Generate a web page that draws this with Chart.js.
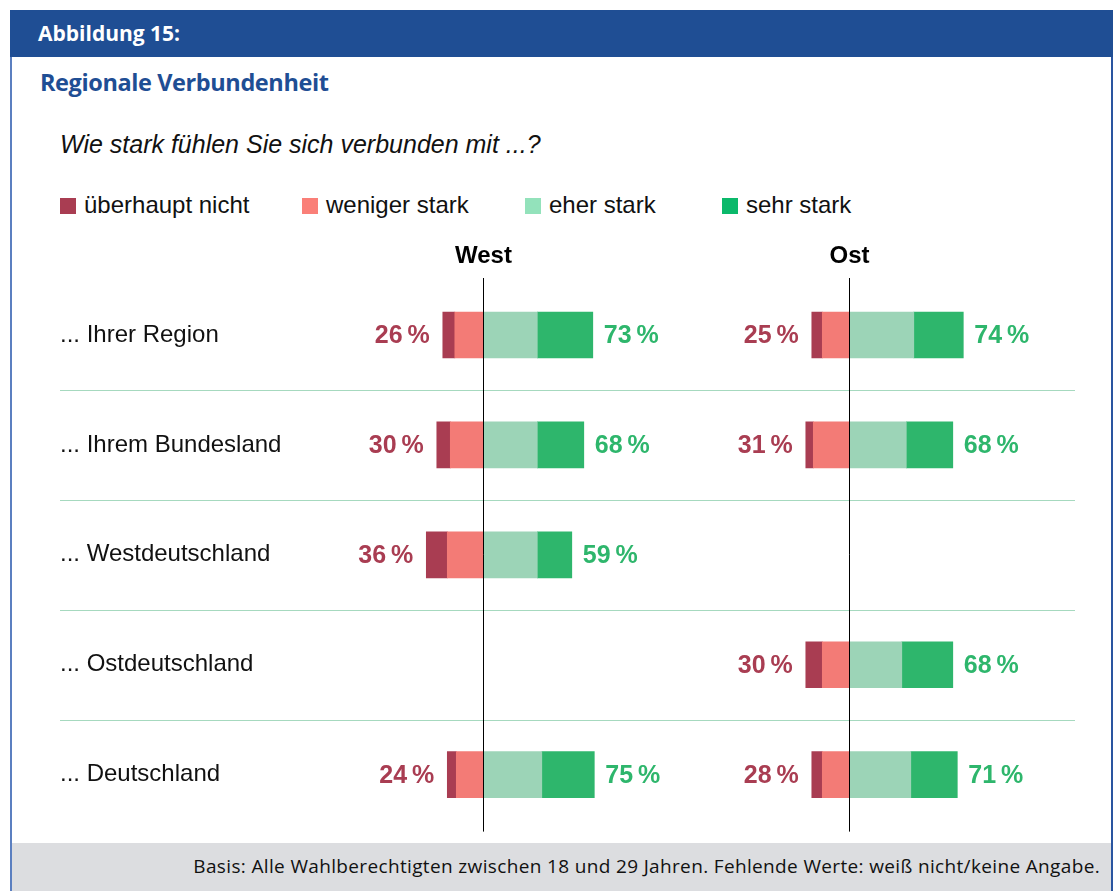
<!DOCTYPE html>
<html lang="de">
<head>
<meta charset="utf-8">
<title>Regionale Verbundenheit</title>
<script src="https://cdn.jsdelivr.net/npm/chart.js@4.4.1/dist/chart.umd.min.js"></script>
<style>
  html, body { margin: 0; padding: 0; background: #fff; }
  body { width: 1120px; height: 891px; position: relative; overflow: hidden; font-family: "Liberation Sans", Arial, sans-serif; }
  .frame { position: absolute; left: 10px; top: 10px; width: 1103px; height: 881px; border-left: 2px solid #5b7fc0; border-right: 2px solid #2a55a0; box-sizing: border-box; }
  .head { position: absolute; left: 10px; top: 10px; width: 1103px; height: 47px; background: #1f4e94; }
  .head span { position: absolute; left: 28px; top: 9px; color: #fff; font: bold 21px "Open Sans", sans-serif; }
  .title { position: absolute; left: 40px; top: 66px; color: #1f4e94; font: bold 23.5px "Open Sans", sans-serif; letter-spacing: -0.4px; }
  .question { position: absolute; left: 60px; top: 130px; font: italic 25px "Liberation Sans", Arial, sans-serif; color: #111; }
  .legend { position: absolute; top: 191px; left: 0; font: 24px "Liberation Sans", Arial, sans-serif; color: #111; }
  .legend div { position: absolute; white-space: nowrap; }
  .legend i { display: inline-block; width: 16px; height: 16px; vertical-align: -1px; margin-right: 8px; }
  .foot { position: absolute; left: 12px; top: 843px; width: 1099px; height: 48px; background: #dcdde0; }
  .foot span { position: absolute; right: 11px; top: 10px; font: 19px "Open Sans", sans-serif; letter-spacing: 0.35px; color: #111; white-space: nowrap; }
  #wrap { position: absolute; left: 40px; top: 230px; width: 1060px; height: 614px; }
</style>
</head>
<body>
<div class="frame"></div>
<div class="head"><span>Abbildung 15:</span></div>
<div class="title">Regionale Verbundenheit</div>
<div class="question">Wie stark fühlen Sie sich verbunden mit ...?</div>
<div class="legend" id="legend"></div>
<div class="foot"><span>Basis: Alle Wahlberechtigten zwischen 18 und 29 Jahren. Fehlende Werte: weiß nicht/keine Angabe.</span></div>
<div id="wrap"><canvas id="chart"></canvas></div>

<script>
// =================== DATA ===================
const categories = ['... Ihrer Region', '... Ihrem Bundesland', '... Westdeutschland', '... Ostdeutschland', '... Deutschland'];
const panels = ['West', 'Ost'];
const seriesNames = ['überhaupt nicht', 'weniger stark', 'eher stark', 'sehr stark'];

// West (null = not asked)
const westUeberhaupt = [8, 9, 14, null, 6];
const westWeniger    = [19, 22, 24, null, 18];
const westEher       = [36, 36, 36, null, 39];
const westSehr       = [37, 31, 23, null, 35];
const westNegLabels  = ['26', '30', '36', null, '24'];
const westPosLabels  = ['73', '68', '59', null, '75'];

// Ost
const ostUeberhaupt = [7, 5, null, 11, 7];
const ostWeniger    = [18, 24, null, 18, 18];
const ostEher       = [43, 38, null, 35, 41];
const ostSehr       = [33, 31, null, 34, 31];
const ostNegLabels  = ['25', '31', null, '30', '28'];
const ostPosLabels  = ['74', '68', null, '68', '71'];

// =================== STYLE ===================
const barColors = ['#a93d52', '#f37b76', '#9cd4b7', '#2eb66c'];
const legendColors = ['#a93d52', '#fa7f78', '#93e2bb', '#0bb96b'];
const negTextColor = '#a93d52';
const posTextColor = '#2eb66c';

// legend (HTML)
const legendX = [60, 302, 525, 722];
document.getElementById('legend').innerHTML = seriesNames.map((n, i) =>
  `<div style="left:${legendX[i]}px"><i style="background:${legendColors[i]}"></i>${n}</div>`
).join('');

const neg = arr => arr.map(v => v == null ? null : -v);

function makeSets(prefix, axis, ue, we, eh, se) {
  // order = stacking order from the centre outwards
  return [
    { label: seriesNames[1], data: neg(we), backgroundColor: barColors[1], xAxisID: axis, stack: prefix },
    { label: seriesNames[0], data: neg(ue), backgroundColor: barColors[0], xAxisID: axis, stack: prefix },
    { label: seriesNames[2], data: eh, backgroundColor: barColors[2], xAxisID: axis, stack: prefix },
    { label: seriesNames[3], data: se, backgroundColor: barColors[3], xAxisID: axis, stack: prefix }
  ];
}

const datasets = [
  ...makeSets('W', 'xW', westUeberhaupt, westWeniger, westEher, westSehr),
  ...makeSets('O', 'xO', ostUeberhaupt, ostWeniger, ostEher, ostSehr)
];

// =================== PLUGIN: separators, zero lines, labels ===================
const decor = {
  id: 'decor',
  beforeDatasetsDraw(chart) {
    const { ctx, scales } = chart;
    const y = scales.y;
    ctx.save();
    ctx.strokeStyle = '#a6d9bf';
    ctx.lineWidth = 1.2;
    for (let i = 0; i < categories.length - 1; i++) {
      const yy = Math.round((y.getPixelForValue(i) + y.getPixelForValue(i + 1)) / 2) + 0.5;
      ctx.beginPath();
      ctx.moveTo(20, yy);
      ctx.lineTo(1035, yy);
      ctx.stroke();
    }
    ctx.restore();
  },
  afterDatasetsDraw(chart) {
    const { ctx, chartArea, scales } = chart;
    const y = scales.y;
    const info = [
      { axis: scales.xW, name: panels[0], ue: westUeberhaupt, we: westWeniger, eh: westEher, se: westSehr, nl: westNegLabels, pl: westPosLabels },
      { axis: scales.xO, name: panels[1], ue: ostUeberhaupt, we: ostWeniger, eh: ostEher, se: ostSehr, nl: ostNegLabels, pl: ostPosLabels }
    ];
    ctx.save();
    info.forEach(p => {
      const x0 = Math.round(p.axis.getPixelForValue(0)) + 0.5;
      ctx.strokeStyle = '#000';
      ctx.lineWidth = 1;
      ctx.beginPath();
      ctx.moveTo(x0, chartArea.top - 2);
      ctx.lineTo(x0, chartArea.bottom + 2);
      ctx.stroke();

      ctx.fillStyle = '#000';
      ctx.font = 'bold 24px "Liberation Sans", Arial, sans-serif';
      ctx.textAlign = 'center';
      ctx.textBaseline = 'middle';
      ctx.fillText(p.name, x0, chartArea.top - 24);

      ctx.font = 'bold 25px "Liberation Sans", Arial, sans-serif';
      categories.forEach((c, i) => {
        if (p.nl[i] == null) return;
        const yy = y.getPixelForValue(i);
        const left = p.axis.getPixelForValue(-(p.ue[i] + p.we[i]));
        const right = p.axis.getPixelForValue(p.eh[i] + p.se[i]);
        ctx.fillStyle = negTextColor;
        ctx.textAlign = 'right';
        ctx.fillText(p.nl[i] + '\u2009%', left - 13, yy + 1);
        ctx.fillStyle = posTextColor;
        ctx.textAlign = 'left';
        ctx.fillText(p.pl[i] + '\u2009%', right + 11, yy + 1);
      });
    });
    ctx.restore();
  }
};

// =================== CHART ===================
const PX_PER_PCT = 1.5;
const AREA_L = 330, AREA_R = 1080;        // page coords of chart area
const ZERO_W = 483.3, ZERO_O = 849.3;     // page coords of the two zero lines

new Chart(document.getElementById('chart'), {
  type: 'bar',
  data: { labels: categories, datasets },
  options: {
    indexAxis: 'y',
    responsive: true,
    maintainAspectRatio: false,
    animation: false,
    layout: { padding: { left: 20, right: 20, top: 50, bottom: 10 } },
    datasets: { bar: { barThickness: 46, grouped: false, categoryPercentage: 1, borderWidth: 0 } },
    plugins: { legend: { display: false }, tooltip: { enabled: false } },
    scales: {
      y: {
        stacked: true,
        grid: { display: false },
        border: { display: false },
        afterFit(scale) { scale.width = 270; },
        ticks: {
          crossAlign: 'far',
          padding: 0,
          color: '#111',
          font: { family: '"Liberation Sans", Arial, sans-serif', size: 24 }
        }
      },
      xW: {
        display: false, stacked: true,
        min: -(ZERO_W - AREA_L) / PX_PER_PCT,
        max: (AREA_R - ZERO_W) / PX_PER_PCT
      },
      xO: {
        display: false, stacked: true,
        min: -(ZERO_O - AREA_L) / PX_PER_PCT,
        max: (AREA_R - ZERO_O) / PX_PER_PCT
      }
    }
  },
  plugins: [decor]
});
</script>
</body>
</html>
